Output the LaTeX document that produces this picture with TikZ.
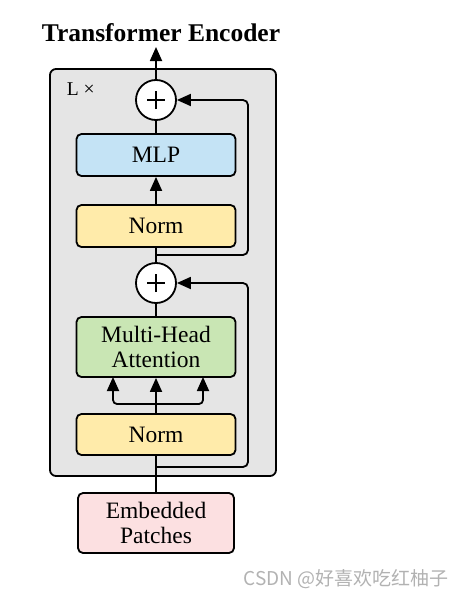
\documentclass[tikz,border=0pt]{standalone}
\usepackage{fontspec}
\setmainfont{Liberation Serif}
\newfontfamily\cjkfont{Noto Sans CJK SC}
\usetikzlibrary{arrows.meta}
\definecolor{encgray}{RGB}{229,229,229}
\definecolor{mlpblue}{RGB}{196,227,245}
\definecolor{normyellow}{RGB}{255,235,170}
\definecolor{mhagreen}{RGB}{201,230,180}
\definecolor{embpink}{RGB}{252,224,225}
\begin{document}
\begin{tikzpicture}[x=1pt,y=-1pt,line width=1.8pt,
  blk/.style={draw,rounded corners=5pt,minimum width=159pt,inner sep=0pt,align=center,
    font=\fontsize{23.5}{24.5}\selectfont},
  arr/.style={-{Triangle[length=14pt,width=12pt]}},
  plus/.style={draw,fill=white,circle,minimum size=40pt,inner sep=0pt,
    path picture={\draw[line width=2.4pt] ([xshift=-9pt]path picture bounding box.center) -- ([xshift=9pt]path picture bounding box.center);
                  \draw[line width=2.4pt] ([yshift=-9pt]path picture bounding box.center) -- ([yshift=9pt]path picture bounding box.center);}}]
\useasboundingbox (0,0) rectangle (467,597);
% encoder frame
\node[draw,fill=encgray,rounded corners=6pt,minimum width=226pt,minimum height=407pt] (enc) at (163,272.5) {};
\node[font=\fontsize{19.5}{19.5}\selectfont,anchor=base west,inner sep=0pt] (lx) at (66,95) {L ×};
% title
\node[font=\bfseries\fontsize{25.5}{26}\selectfont,anchor=base,inner sep=0pt] (title) at (161,41.5) {Transformer Encoder};
% blocks
\node[blk,fill=mlpblue,minimum height=42pt] (mlp) at (156,155) {MLP};
\node[blk,fill=normyellow,minimum height=42pt] (norm1) at (156,226) {Norm};
\node[blk,fill=mhagreen,minimum height=60pt] (mha) at (156,347) {Multi-Head\\Attention};
\node[blk,fill=normyellow,minimum height=41pt] (norm2) at (156,434.5) {Norm};
\node[blk,fill=embpink,minimum width=156pt,minimum height=60pt] (emb) at (156,523) {Embedded\\Patches};
\node[plus] (p1) at (156,100) {};
\node[plus] (p2) at (156,283) {};
% coordinates
\coordinate (top) at (156,47);
\coordinate (s1) at (156,255);
\coordinate (s2) at (156,467);
\coordinate (b) at (156,404);
\coordinate (ma) at (113,377);
\coordinate (mc) at (203,377);
% connectors
\draw (mlp.north) -- (p1.south);
\draw[arr] (p1.north) -- (top);
\draw[arr] (norm1.north) -- (mlp.south);
\draw (norm1.south) -- (p2.north);
\draw[arr,rounded corners=5pt] (s1) -- (248,255) -- (248,100) -- (p1.east);
\draw (mha.north) -- (p2.south);
\draw[arr] (norm2.north) -- (b |- mha.south);
\draw[arr,rounded corners=4pt] (b) -| (ma);
\draw[arr,rounded corners=4pt] (b) -| (mc);
\draw (emb.north) -- (norm2.south);
\draw[arr,rounded corners=5pt] (s2) -- (248,467) -- (248,283) -- (p2.east);
% watermark
\node[font=\cjkfont\fontsize{19}{19}\selectfont,text=black!30,anchor=base west,inner sep=0pt] (wm) at (243,585) {CSDN @好喜欢吃红柚子};
\end{tikzpicture}
\end{document}
